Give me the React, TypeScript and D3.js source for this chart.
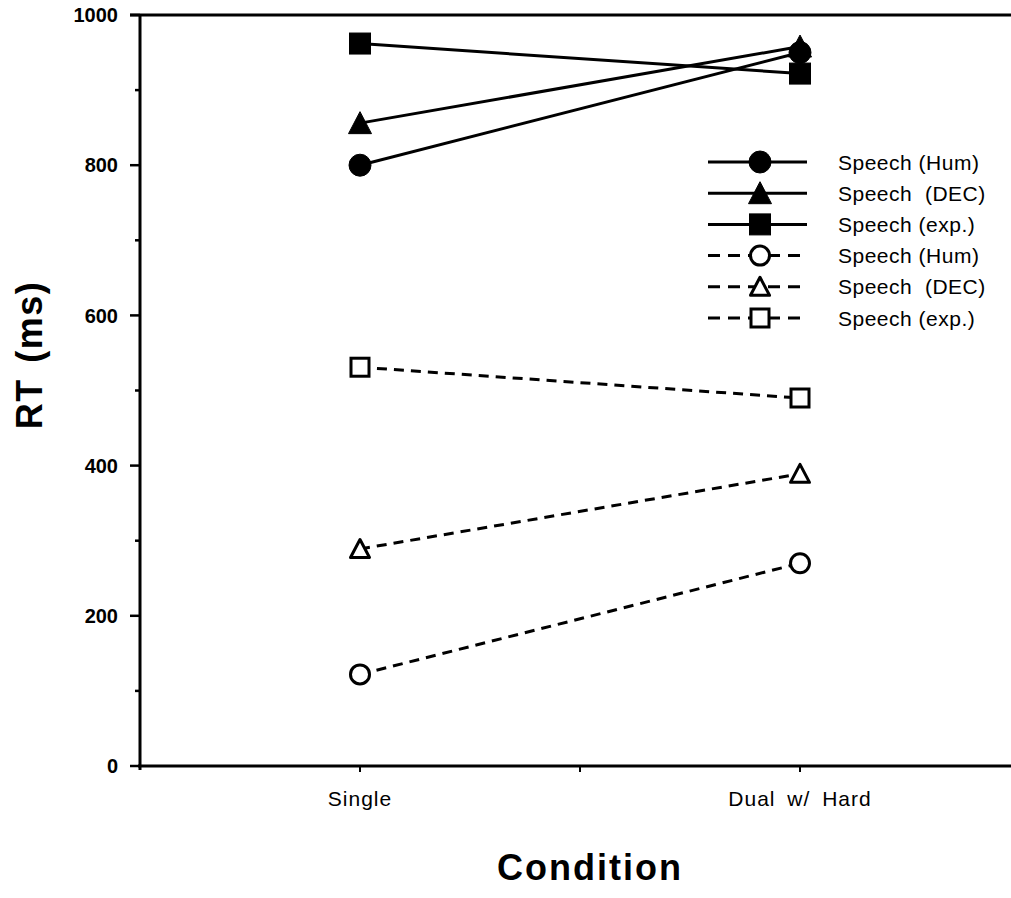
import React from 'react'
import * as d3 from 'd3'

// conditions on the x axis
const conditions = ['Single', 'Dual w/ Hard']
const xPositions = [1, 3]

// RT values (ms), Single then Dual w/ Hard
const speechHumFilled = [800, 950]
const speechDecFilled = [856, 958]
const speechExpFilled = [962, 922]
const speechHumOpen = [122, 270]
const speechDecOpen = [289, 389]
const speechExpOpen = [531, 490]

const legendLabels = [
  'Speech (Hum)',
  'Speech  (DEC)',
  'Speech (exp.)',
  'Speech (Hum)',
  'Speech  (DEC)',
  'Speech (exp.)',
]

const yMajorTicks = [0, 200, 400, 600, 800, 1000]
const yMinorTicks = [100, 300, 500, 700, 900]
const xTicks = [1, 2, 3]

type Series = { values: number[]; shape: 'circle' | 'triangle' | 'square'; filled: boolean; label: string }

const series: Series[] = [
  { values: speechHumFilled, shape: 'circle', filled: true, label: legendLabels[0] },
  { values: speechDecFilled, shape: 'triangle', filled: true, label: legendLabels[1] },
  { values: speechExpFilled, shape: 'square', filled: true, label: legendLabels[2] },
  { values: speechHumOpen, shape: 'circle', filled: false, label: legendLabels[3] },
  { values: speechDecOpen, shape: 'triangle', filled: false, label: legendLabels[4] },
  { values: speechExpOpen, shape: 'square', filled: false, label: legendLabels[5] },
]

const font = '"Liberation Sans", Arial, Helvetica, sans-serif'

function Marker({ shape, filled, x, y }: { shape: Series['shape']; filled: boolean; x: number; y: number }) {
  const fill = filled ? '#000' : '#fff'
  const sw = filled ? 1 : 3
  if (shape === 'circle') {
    const r = filled ? 11 : 9.5
    return <circle cx={x} cy={y} r={r} fill={fill} stroke="#000" strokeWidth={sw} />
  }
  if (shape === 'square') {
    const s = filled ? 21 : 18
    return <rect x={x - s / 2} y={y - s / 2} width={s} height={s} fill={fill} stroke="#000" strokeWidth={sw} />
  }
  const h = filled ? 21 : 17
  const w = filled ? 23 : 19
  const pts = `${x},${y - h / 2 - 1} ${x + w / 2},${y + h / 2} ${x - w / 2},${y + h / 2}`
  return <polygon points={pts} fill={fill} stroke="#000" strokeWidth={sw} strokeLinejoin="round" />
}

export default function App() {
  const width = 1011
  const height = 898
  const left = 140
  const right = 1020
  const top = 15
  const bottom = 766

  const x = d3.scaleLinear().domain([0, 4]).range([left, right])
  const y = d3.scaleLinear().domain([0, 1000]).range([bottom, top])

  const line = d3
    .line<number>()
    .x((_, i) => x(xPositions[i]))
    .y((d) => y(d))

  const legendX1 = 708
  const legendX2 = 807
  const legendMid = 760
  const legendTextX = 838
  const legendY0 = 162
  const legendStep = 31.2

  return (
    <svg width={width} height={height} style={{ display: 'block', position: 'absolute', left: 0, top: 0, background: '#fff' }}>
      {/* frame top and axes */}
      <line x1={left - 10} x2={width} y1={top} y2={top} stroke="#000" strokeWidth={3} />
      <line x1={left} x2={left} y1={top} y2={bottom + 4} stroke="#000" strokeWidth={3} />
      <line x1={left - 2} x2={width} y1={bottom} y2={bottom} stroke="#000" strokeWidth={3} />

      {yMajorTicks.map((t) => (
        <g key={'ymaj' + t}>
          <line x1={left - 10} x2={left} y1={y(t)} y2={y(t)} stroke="#000" strokeWidth={2.5} />
          <text x={left - 22} y={y(t)} dy="0.36em" textAnchor="end" fontFamily={font} fontSize={20} fontWeight={600}>
            {t}
          </text>
        </g>
      ))}
      {yMinorTicks.map((t) => (
        <line key={'ymin' + t} x1={left - 5} x2={left} y1={y(t)} y2={y(t)} stroke="#000" strokeWidth={2.5} />
      ))}
      {xTicks.map((t) => (
        <line key={'xt' + t} x1={x(t)} x2={x(t)} y1={bottom} y2={bottom + 6} stroke="#000" strokeWidth={2} />
      ))}
      {conditions.map((c, i) => (
        <text
          key={c}
          x={x(xPositions[i])}
          y={806}
          textAnchor="middle"
          fontFamily={font}
          fontSize={21}
          letterSpacing={1}
          wordSpacing={5}
        >
          {c}
        </text>
      ))}

      <text
        transform="translate(42, 355) rotate(-90)"
        textAnchor="middle"
        fontFamily={font}
        fontSize={36}
        fontWeight="bold"
        letterSpacing={1.5}
        wordSpacing={4}
      >
        RT (ms)
      </text>
      <text x={590} y={880} textAnchor="middle" fontFamily={font} fontSize={36} fontWeight="bold" letterSpacing={2}>
        Condition
      </text>

      {/* series lines */}
      {series.map((s, i) => (
        <path
          key={'l' + i}
          d={line(s.values) || ''}
          fill="none"
          stroke="#000"
          strokeWidth={3}
          strokeDasharray={s.filled ? undefined : '10 7'}
        />
      ))}
      {/* series markers */}
      {series.map((s, i) =>
        s.values.map((v, j) => <Marker key={'m' + i + '-' + j} shape={s.shape} filled={s.filled} x={x(xPositions[j])} y={y(v)} />)
      )}

      {/* legend */}
      {series.map((s, i) => {
        const ly = legendY0 + i * legendStep
        return (
          <g key={'lg' + i}>
            <line
              x1={legendX1}
              x2={legendX2}
              y1={ly}
              y2={ly}
              stroke="#000"
              strokeWidth={3}
              strokeDasharray={s.filled ? undefined : '12 8'}
            />
            <Marker shape={s.shape} filled={s.filled} x={legendMid} y={ly} />
            <text
              x={legendTextX}
              y={ly}
              dy="0.36em"
              fontFamily={font}
              fontSize={21}
              letterSpacing={0.5}
              style={{ whiteSpace: 'pre' }}
            >
              {s.label}
            </text>
          </g>
        )
      })}
    </svg>
  )
}
